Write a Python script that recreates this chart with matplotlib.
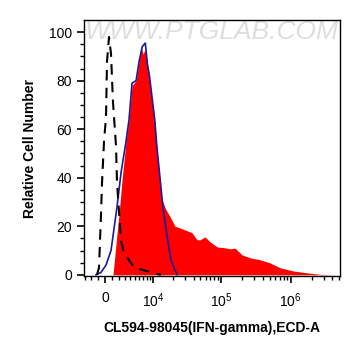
import numpy as np
import matplotlib
matplotlib.use("Agg")
import matplotlib.pyplot as plt

plt.rcParams['font.family'] = ['Liberation Sans', 'DejaVu Sans']
plt.rcParams['mathtext.fontset'] = 'custom'
plt.rcParams['mathtext.rm'] = 'Liberation Sans'
plt.rcParams['mathtext.it'] = 'Liberation Sans'

# ---- data (fluorescence intensity, relative cell number) ----
sample_x = [1145, 1743, 2052, 2534, 3219, 3772, 4357, 4775, 5214, 5922, 6435, 6912,
            7551, 8164, 8825, 9905, 10674, 11508, 12864, 13348, 15663, 18153, 21494,
            25440, 30082, 37990, 44880, 49575, 58584, 69131, 87193, 121500, 134200,
            158400, 199800, 260500, 362600, 505000, 703300, 1081700, 1720000,
            2645000, 4354000]
sample_y = [0, 17, 25, 39, 55, 64, 78, 79, 80, 88, 94, 91,
            93, 86, 81, 70, 63, 53, 38, 32, 27, 24, 20,
            19.3, 18.5, 17.3, 14.4, 14.4, 15.6, 13.6, 11.5, 11, 10.7,
            11, 8.2, 7, 6.2, 4.9, 2.9, 1.6, 0.8,
            0.2, 0]

control_x = [-1292, -568, 141, 854, 1743, 2371, 3219, 3772, 4357, 5214, 5922, 6704,
             7551, 8164, 8825, 9905, 10674, 11508, 14214, 16185, 18772, 22990]
control_y = [0, 1, 4, 10, 28, 42, 55, 64, 79, 80, 88, 94,
             95.5, 87, 82, 71, 64, 53, 28, 17, 6, 0]

blank_x = [-1145, -855, -568, -425, -141, 141, 283, 568, 854, 1145, 1591, 1743,
           2371, 2870, 4775, 9500, 13348]
blank_y = [0, 3, 25, 38, 55, 65, 88, 98, 91, 71, 53, 38,
           14, 9, 3, 1, 0]

xticks_major = [0, 1e4, 1e5, 1e6]
xtick_labels = ['0', '$10^4$', '$10^5$', '$10^6$']
yticks = [0, 20, 40, 60, 80, 100]

W = 4270.0
def fwd(x):
    return np.arcsinh(np.asarray(x, dtype=float) / W) / np.log(10)
def inv(y):
    return W * np.sinh(np.asarray(y, dtype=float) * np.log(10))

fig = plt.figure(figsize=(3.61, 3.56), dpi=100)
ax = fig.add_axes([84/361, 1-276/356, 256/361, 256/356])
ax.set_xscale('function', functions=(fwd, inv))

ax.fill_between(sample_x, sample_y, 0, color='#ff0000', linewidth=0, zorder=2)
ax.plot(control_x, control_y, color='#1a1a9c', linewidth=1.2, zorder=3)
ax.plot(blank_x, blank_y, color='black', linewidth=1.5, dashes=(5, 3.5), zorder=4)

ax.set_xlim(-3220, 5.14e6)
ax.set_ylim(-0.5, 105)

minor = [-3000, -2000, -1000] + [i * 1000 for i in range(1, 10)] + \
        [i * 1e4 for i in range(2, 10)] + [i * 1e5 for i in range(2, 10)] + \
        [i * 1e6 for i in range(2, 6)]
ax.set_xticks(xticks_major)
ax.set_xticklabels(xtick_labels)
ax.set_xticks(minor, minor=True)
ax.set_yticks(yticks)
ax.set_yticks(np.arange(0, 105, 5), minor=True)

ax.tick_params(axis='both', which='major', direction='out', length=5, width=1.2,
               labelsize=10, colors='black')
ax.tick_params(axis='both', which='minor', direction='out', length=3, width=1)
ax.tick_params(axis='x', pad=6)
for s in ax.spines.values():
    s.set_linewidth(1.0)

ax.set_ylabel('Relative Cell Number', fontsize=10, fontweight='bold', labelpad=9)
ax.set_xlabel('CL594-98045(IFN-gamma),ECD-A', fontsize=10, fontweight='bold', labelpad=8)

ax.text(0.5, 0.955, 'WWW.PTGLAB.COM', transform=ax.transAxes, ha='center', va='center',
        fontsize=19, color='#dedede', fontstyle='italic', zorder=1)

fig.savefig('out.png', dpi=100)
